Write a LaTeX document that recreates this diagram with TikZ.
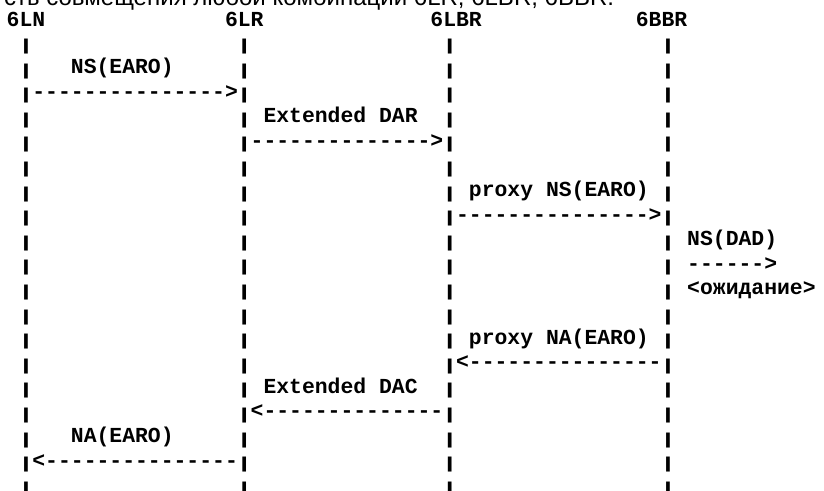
\documentclass[tikz,border=0pt]{standalone}
\usepackage{graphicx}
\usepackage{fontspec}
\setmainfont{Liberation Sans}
\setmonofont{Liberation Mono}
\newcommand{\barglyph}{\makebox[12.84pt]{\raisebox{-1.6pt}{\scalebox{1.35}[0.74]{|}}}}
\begin{document}
\begin{tikzpicture}[x=1pt,y=-1pt,
  asc/.style={inner sep=0pt, outer sep=0pt, anchor=base west,
    font=\ttfamily\bfseries\fontsize{21.4}{24.6}\selectfont},
  toptext/.style={inner sep=0pt, outer sep=0pt, anchor=base east,
    font=\fontsize{24}{28}\selectfont}]
\useasboundingbox (0,0) rectangle (824,490);
\clip (0,0) rectangle (824,490);
% cut-off title line
\node[toptext] (title) at (614,5) {сть совмещения любой комбинации 6LR, 6LBR, 6BBR.};
% headers
\foreach \c/\t/\n in {3/6LN/h1,20/6LR/h2,36/6LBR/h3,52/6BBR/h4}
  \node[asc] (\n) at ({-31.8+\c*12.84},26.5) {\t};
% life lines (pipes)
\foreach \r in {1,...,19}
  \foreach \c/\n in {4/a,21/b,37/c,54/d}
    \node[asc] (p\n\r) at ({-31.8+\c*12.84},{24.2+\r*24.6}) {\barglyph};
% labels and arrows
\foreach \c/\r/\t/\n in {
   8/2/NS(EARO)/m1,
   5/3/--------------->/a1,
  23/4/Extended DAR/m2,
  22/5/-------------->/a2,
  39/7/proxy NS(EARO)/m3,
  38/8/--------------->/a3,
  56/9/NS(DAD)/m4,
  56/10/------>/a4,
  56/11/<ожидание>/m5,
  39/13/proxy NA(EARO)/m6,
  38/14/<---------------/a5,
  23/15/Extended DAC/m7,
  22/16/<--------------/a6,
   8/17/NA(EARO)/m8,
   5/18/<---------------/a7}
  \node[asc] (\n) at ({-31.8+\c*12.84},{24.2+\r*24.6}) {\t};
\end{tikzpicture}
\end{document}
